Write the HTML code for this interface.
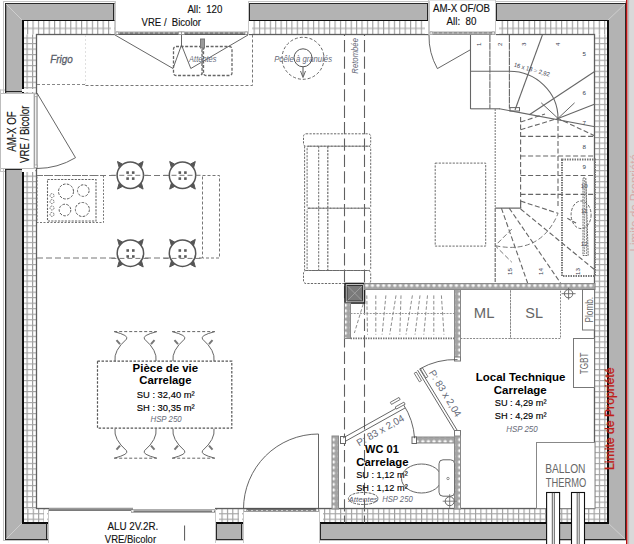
<!DOCTYPE html>
<html><head><meta charset="utf-8"><title>Plan</title>
<style>html,body{margin:0;padding:0;background:#fff;overflow:hidden}svg{display:block}</style></head>
<body><svg width="634" height="544" viewBox="0 0 634 544">
<defs>
 <pattern id="grid" x="0.1" y="0.7" width="5.45" height="5.5" patternUnits="userSpaceOnUse">
   <rect width="5.45" height="5.5" fill="#ffffff"/>
   <rect x="0" y="0" width="1.1" height="5.5" fill="#9c9c9c"/>
   <rect x="0" y="0" width="5.45" height="1.1" fill="#a4a4a4"/>
 </pattern>
 <pattern id="gtop" x="64.85" y="2.4" width="5.393" height="13" patternUnits="userSpaceOnUse">
   <rect width="5.393" height="13" fill="#ffffff"/>
   <rect x="0" y="0" width="1.1" height="13" fill="#9c9c9c"/>
   <rect x="0" y="-0.55" width="5.393" height="1.1" fill="#a4a4a4"/>
   <rect x="0" y="12.45" width="5.393" height="1.1" fill="#a4a4a4"/>
 </pattern>
 <pattern id="gbot" x="404.85" y="513.25" width="5.393" height="5.4" patternUnits="userSpaceOnUse">
   <rect width="5.393" height="5.4" fill="#ffffff"/>
   <rect x="0" y="0" width="1.1" height="5.4" fill="#9c9c9c"/>
   <rect x="0" y="0" width="5.393" height="1.1" fill="#a4a4a4"/>
 </pattern>
 <pattern id="gleft" x="26.55" y="26.45" width="5.5" height="5.524" patternUnits="userSpaceOnUse">
   <rect width="5.5" height="5.524" fill="#ffffff"/>
   <rect x="0" y="0" width="1.1" height="5.524" fill="#9c9c9c"/>
   <rect x="0" y="0" width="5.5" height="1.1" fill="#a4a4a4"/>
 </pattern>
 <pattern id="gright" x="598.85" y="302.75" width="5.5" height="5.524" patternUnits="userSpaceOnUse">
   <rect width="5.5" height="5.524" fill="#ffffff"/>
   <rect x="0" y="0" width="1.1" height="5.524" fill="#9c9c9c"/>
   <rect x="0" y="0" width="5.5" height="1.1" fill="#a4a4a4"/>
 </pattern>
 <pattern id="xh" x="0" y="0.5" width="5.6" height="6" patternUnits="userSpaceOnUse">
   <rect width="5.6" height="6" fill="#a4a4a4"/>
   <path d="M0.6 3 L2.8 1.3 L5 3 L2.8 4.7 Z" fill="#fafafa"/>
 </pattern>
 <pattern id="xv" x="0.5" y="0" width="6" height="5.6" patternUnits="userSpaceOnUse">
   <rect width="6" height="5.6" fill="#a4a4a4"/>
   <path d="M3 0.6 L4.7 2.8 L3 5 L1.3 2.8 Z" fill="#fafafa"/>
 </pattern>
 <linearGradient id="sillh" x1="0" y1="0" x2="0" y2="1">
   <stop offset="0" stop-color="#a8a8a8"/><stop offset="0.6" stop-color="#7a7a7a"/><stop offset="1" stop-color="#4a4a4a"/>
 </linearGradient>
 <linearGradient id="sillb" x1="0" y1="0" x2="0" y2="1">
   <stop offset="0" stop-color="#4a4a4a"/><stop offset="0.4" stop-color="#7a7a7a"/><stop offset="1" stop-color="#a8a8a8"/>
 </linearGradient>
</defs>
<rect x="0" y="0" width="634" height="544" fill="#fff"/>
<rect x="628" y="0" width="6" height="544" fill="#d9d9d9"/>
<rect x="3.5" y="1.5" width="622" height="539" fill="none" stroke="#c4c4c4" stroke-width="1"/>
<rect x="5" y="3" width="621" height="537" fill="#2a2a2a"/>
<rect x="6.3" y="4" width="618.7" height="535" fill="#b3b3b3"/>
<path d="M6 4 L22 20 M625 4 L608 20 M6 539 L22 523 M625 539 L608 523" stroke="#d4d4d4" stroke-width="0.8"/>
<rect x="22" y="20" width="587" height="504" fill="#0d0d0d"/>
<rect x="24" y="21" width="583" height="501" fill="#fff"/>
<rect x="24" y="21" width="583" height="13.5" fill="url(#gtop)"/>
<rect x="24" y="508.5" width="583" height="13.5" fill="url(#gbot)"/>
<rect x="24" y="34.5" width="12.5" height="474" fill="url(#gleft)"/>
<rect x="594.5" y="34.5" width="12.5" height="474" fill="url(#gright)"/>
<rect x="36.5" y="34.5" width="558" height="474" fill="#fff" stroke="#5e5e5e" stroke-width="1.3"/>
<rect x="115" y="0" width="134" height="36" fill="#fff"/>
<rect x="113" y="3" width="1" height="17" fill="#262626"/>
<rect x="111" y="21" width="3" height="13" fill="#fff"/>
<rect x="114.5" y="1.5" width="1" height="33" fill="#c4c4c4"/>
<rect x="115" y="1" width="1" height="34" fill="#c8c8c8"/>
<rect x="249" y="3" width="1" height="17" fill="#262626"/>
<rect x="249" y="21" width="3" height="13" fill="#fff"/>
<rect x="248" y="1" width="1" height="34" fill="#c8c8c8"/>
<rect x="116" y="31.5" width="132" height="3.5" fill="url(#sillh)"/>
<line x1="118" y1="33" x2="246" y2="33" stroke="#e8e8e8" stroke-width="0.7" stroke-dasharray="2 3"/>
<rect x="116" y="32" width="2.5" height="2.5" fill="#fff" stroke="#777" stroke-width="0.5"/>
<rect x="245" y="32" width="2.5" height="2.5" fill="#fff" stroke="#777" stroke-width="0.5"/>
<rect x="429" y="0" width="67" height="36" fill="#fff"/>
<rect x="427" y="3" width="1" height="17" fill="#262626"/>
<rect x="425" y="21" width="3" height="13" fill="#fff"/>
<rect x="428.5" y="1.5" width="1" height="33" fill="#c4c4c4"/>
<rect x="429" y="1" width="1" height="34" fill="#c8c8c8"/>
<rect x="496" y="3" width="1" height="17" fill="#262626"/>
<rect x="496" y="21" width="3" height="13" fill="#fff"/>
<rect x="495" y="1" width="1" height="34" fill="#c8c8c8"/>
<rect x="430" y="31.5" width="65" height="3.5" fill="url(#sillh)"/>
<line x1="432" y1="33" x2="493" y2="33" stroke="#e8e8e8" stroke-width="0.7" stroke-dasharray="2 3"/>
<rect x="430" y="32" width="2.5" height="2.5" fill="#fff" stroke="#777" stroke-width="0.5"/>
<rect x="492" y="32" width="2.5" height="2.5" fill="#fff" stroke="#777" stroke-width="0.5"/>
<rect x="0" y="93" width="36" height="76" fill="#fff"/>
<rect x="5" y="91" width="17" height="1" fill="#262626"/>
<rect x="22" y="89" width="13" height="3" fill="#fff"/>
<rect x="4" y="93" width="32" height="1" fill="#c8c8c8"/>
<rect x="5" y="169" width="17" height="1" fill="#262626"/>
<rect x="22" y="169" width="13" height="3" fill="#fff"/>
<rect x="4" y="168" width="32" height="1" fill="#c8c8c8"/>
<rect x="34" y="94" width="3.5" height="74" fill="#888"/>
<rect x="35" y="94" width="1.5" height="74" fill="#f0f0f0"/>
<rect x="34.5" y="94" width="2.5" height="2.5" fill="#fff" stroke="#777" stroke-width="0.5"/>
<rect x="34.5" y="165" width="2.5" height="2.5" fill="#fff" stroke="#777" stroke-width="0.5"/>
<rect x="48" y="509" width="168" height="35" fill="#fff"/>
<rect x="46" y="523" width="1" height="17" fill="#262626"/>
<rect x="44" y="510" width="3" height="12" fill="#fff"/>
<rect x="48" y="509" width="1" height="34" fill="#c8c8c8"/>
<rect x="216" y="523" width="1" height="17" fill="#262626"/>
<rect x="216" y="510" width="3" height="12" fill="#fff"/>
<rect x="215" y="509" width="1" height="34" fill="#c8c8c8"/>
<rect x="49" y="508.5" width="166" height="3.5" fill="url(#sillb)"/>
<line x1="51" y1="510.5" x2="213" y2="510.5" stroke="#e8e8e8" stroke-width="0.7" stroke-dasharray="2 3"/>
<rect x="49" y="509" width="2.5" height="2.5" fill="#fff" stroke="#777" stroke-width="0.5"/>
<rect x="212" y="509" width="2.5" height="2.5" fill="#fff" stroke="#777" stroke-width="0.5"/>
<rect x="49" y="507" width="166" height="7" fill="#fff"/>
<rect x="49" y="507.8" width="84" height="3.2" fill="#7a7a7a"/><rect x="49" y="508.3" width="84" height="1" fill="#a8a8a8"/>
<rect x="131" y="509.4" width="84" height="3.2" fill="#7a7a7a"/><rect x="131" y="509.9" width="84" height="1" fill="#b0b0b0"/>
<rect x="131.5" y="510.2" width="2" height="1.6" fill="#fff"/><rect x="212" y="510.2" width="2" height="1.6" fill="#fff"/>
<rect x="243" y="509" width="77" height="35" fill="#fff"/>
<rect x="241" y="523" width="1" height="17" fill="#262626"/>
<rect x="239" y="510" width="3" height="12" fill="#fff"/>
<rect x="243" y="509" width="1" height="34" fill="#c8c8c8"/>
<rect x="320" y="523" width="1" height="17" fill="#262626"/>
<rect x="320" y="510" width="3" height="12" fill="#fff"/>
<rect x="319" y="509" width="1" height="34" fill="#c8c8c8"/>
<rect x="244" y="508.5" width="75" height="3.5" fill="url(#sillb)"/>
<line x1="246" y1="510.5" x2="317" y2="510.5" stroke="#e8e8e8" stroke-width="0.7" stroke-dasharray="2 3"/>
<rect x="244" y="509" width="2.5" height="2.5" fill="#fff" stroke="#777" stroke-width="0.5"/>
<rect x="316" y="509" width="2.5" height="2.5" fill="#fff" stroke="#777" stroke-width="0.5"/>
<rect x="0.5" y="93.5" width="33.5" height="75" fill="#fff" stroke="#bdbdbd" stroke-width="1"/><rect x="0" y="168" width="1" height="4" fill="#c4c4c4"/><rect x="0" y="171" width="5" height="1" fill="#c4c4c4"/><rect x="0" y="89.5" width="5" height="1" fill="#c4c4c4"/><rect x="0" y="89.5" width="1" height="5" fill="#c4c4c4"/>
<rect x="428.5" y="0" width="67" height="34" fill="none" stroke="#c8c8c8" stroke-width="1"/>
<rect x="626" y="0" width="1.1" height="544" fill="#b41212"/><rect x="627.1" y="0" width="1" height="544" fill="#d68080"/><rect x="628.1" y="0" width="1" height="544" fill="#b8b8b8"/>
<text x="187.40" y="13.2" font-family='"Liberation Sans", sans-serif' font-size="11.3" font-weight="normal" font-style="normal" fill="#111" stroke="#111" stroke-width="0.15" textLength="34.92" lengthAdjust="spacingAndGlyphs">All:&#160; 120</text>
<text x="141.60" y="26.4" font-family='"Liberation Sans", sans-serif' font-size="11.3" font-weight="normal" font-style="normal" fill="#111" stroke="#111" stroke-width="0.15" textLength="59.43" lengthAdjust="spacingAndGlyphs">VRE /&#160; Bicolor</text>
<text x="433.00" y="11.8" font-family='"Liberation Sans", sans-serif' font-size="11.3" font-weight="normal" font-style="normal" fill="#111" stroke="#111" stroke-width="0.15" textLength="56.98" lengthAdjust="spacingAndGlyphs">AM-X OF/OB</text>
<text x="446.60" y="24.8" font-family='"Liberation Sans", sans-serif' font-size="11.3" font-weight="normal" font-style="normal" fill="#111" stroke="#111" stroke-width="0.15" textLength="29.86" lengthAdjust="spacingAndGlyphs">All:&#160; 80</text>
<text x="107.40" y="529.9" font-family='"Liberation Sans", sans-serif' font-size="11.5" font-weight="normal" font-style="normal" fill="#111" stroke="#111" stroke-width="0.15" textLength="50.87" lengthAdjust="spacingAndGlyphs">ALU 2V.2R.</text>
<text x="104.80" y="543.2" font-family='"Liberation Sans", sans-serif' font-size="11.5" font-weight="normal" font-style="normal" fill="#111" stroke="#111" stroke-width="0.15" textLength="51.29" lengthAdjust="spacingAndGlyphs">VRE/Bicolor</text>
<text x="15.6" y="151.80" transform="rotate(-90 15.6 151.80)" font-family='"Liberation Sans", sans-serif' font-size="12" font-weight="normal" font-style="normal" fill="#111" stroke="#111" stroke-width="0.15" textLength="40.56" lengthAdjust="spacingAndGlyphs">AM-X OF</text>
<text x="29.2" y="162.90" transform="rotate(-90 29.2 162.90)" font-family='"Liberation Sans", sans-serif' font-size="12" font-weight="normal" font-style="normal" fill="#111" stroke="#111" stroke-width="0.15" textLength="57.25" lengthAdjust="spacingAndGlyphs">VRE / Bicolor</text>
<path d="M115 35 L173 68.5 L181.5 45 L190.8 68.5 L248 35" stroke="#555" stroke-width="0.9" fill="none"/>
<line x1="181.5" y1="35" x2="181.5" y2="45" stroke="#555" stroke-width="0.9"/>
<rect x="178.5" y="32" width="3" height="2.6" fill="#fff" stroke="#777" stroke-width="0.5"/><rect x="181.5" y="32" width="3" height="2.6" fill="#fff" stroke="#777" stroke-width="0.5"/>
<path d="M37 93 L75.5 157.7 A75 75 0 0 1 37 168.5" stroke="#555" stroke-width="0.9" fill="none"/>
<path d="M429 35 A66 66 0 0 0 437.4 68.6 L470.5 49.7" stroke="#555" stroke-width="0.9" fill="none"/>
<path d="M243.5 509 A75 75 0 0 1 318.5 434 L318.5 509" stroke="#555" stroke-width="0.9" fill="none"/>
<path d="M37 84.5 L85.5 84.5" stroke="#888" stroke-width="1" fill="none" stroke-dasharray="3 2"/>
<path d="M85.5 85.5 L252.5 85.5 L252.5 35" stroke="#777" stroke-width="1" fill="none" stroke-dasharray="3 2"/>
<line x1="85.5" y1="35" x2="85.5" y2="84" stroke="#d8d8d8" stroke-width="0.8" stroke-dasharray="2 2"/>
<g stroke="#5a5e6a" stroke-width="0.3">
<text x="50.20" y="62.7" font-family='"Liberation Sans", sans-serif' font-size="10.5" font-weight="normal" font-style="italic" fill="#5a5e6a" textLength="22.68" lengthAdjust="spacingAndGlyphs">Frigo</text>
</g>
<rect x="173.5" y="46.5" width="28.5" height="29" stroke="#666" stroke-width="1.3" fill="none" stroke-dasharray="3 1.6" rx="2.5"/>
<rect x="203.5" y="46.5" width="28.5" height="29" stroke="#666" stroke-width="1.3" fill="none" stroke-dasharray="3 1.6" rx="2.5"/>
<rect x="200.5" y="39" width="4" height="9" stroke="#777" stroke-width="1" fill="#999"/>
<line x1="202.5" y1="48" x2="202.5" y2="76" stroke="#888" stroke-width="1" stroke-dasharray="2 1.5"/>
<text x="189.07" y="62" font-family='"Liberation Sans", sans-serif' font-size="9.5" font-weight="normal" font-style="italic" fill="#666a78" textLength="27.47" lengthAdjust="spacingAndGlyphs">Attentes</text>
<circle cx="303" cy="58.3" r="21" fill="none" stroke="#555" stroke-width="0.9" stroke-dasharray="3 2"/>
<circle cx="303" cy="57.8" r="9" fill="none" stroke="#555" stroke-width="1"/>
<line x1="303" y1="66.8" x2="303" y2="76" stroke="#555" stroke-width="1"/>
<path d="M300.5 71 L303 77.5 L305.5 71" stroke="#555" stroke-width="0.9" fill="none"/>
<text x="274.17" y="61.6" font-family='"Liberation Sans", sans-serif' font-size="9.5" font-weight="normal" font-style="italic" fill="#666a78" textLength="57.83" lengthAdjust="spacingAndGlyphs">Po&#234;le &#224; granul&#233;s</text>
<line x1="344.5" y1="35" x2="344.5" y2="523" stroke="#606060" stroke-width="1.1" stroke-dasharray="12.3 4.1" stroke-dashoffset="11.4"/>
<line x1="364.5" y1="35" x2="364.5" y2="523" stroke="#606060" stroke-width="1.1" stroke-dasharray="12.3 4.1" stroke-dashoffset="11.4"/>
<text x="358" y="73.63" transform="rotate(-90 358 73.63)" font-family='"Liberation Sans", sans-serif' font-size="9.5" font-weight="normal" font-style="italic" fill="#666a78" textLength="35.59" lengthAdjust="spacingAndGlyphs">Retomb&#233;e</text>
<rect x="37" y="175.5" width="66.5" height="47" stroke="#777" stroke-width="1" fill="none" stroke-dasharray="2 1.5"/>
<rect x="47.5" y="179.5" width="48.5" height="41.5" stroke="#666" stroke-width="1.1" fill="none" stroke-dasharray="2.2 1.2"/>
<circle cx="66" cy="191.5" r="7.5" fill="none" stroke="#5a5a5a" stroke-width="1" stroke-dasharray="2.6 1.4"/>
<circle cx="83.3" cy="190.6" r="5.8" fill="none" stroke="#5a5a5a" stroke-width="1" stroke-dasharray="2.6 1.4"/>
<circle cx="65" cy="210" r="5.8" fill="none" stroke="#5a5a5a" stroke-width="1" stroke-dasharray="2.6 1.4"/>
<circle cx="82.4" cy="209.5" r="7" fill="none" stroke="#5a5a5a" stroke-width="1" stroke-dasharray="2.6 1.4"/>
<circle cx="52" cy="195.6" r="2" fill="none" stroke="#666" stroke-width="0.9" stroke-dasharray="1.5 0.8"/>
<circle cx="52" cy="201.6" r="2" fill="none" stroke="#666" stroke-width="0.9" stroke-dasharray="1.5 0.8"/>
<circle cx="52" cy="208" r="2" fill="none" stroke="#666" stroke-width="0.9" stroke-dasharray="1.5 0.8"/>
<circle cx="52" cy="214.4" r="2" fill="none" stroke="#666" stroke-width="0.9" stroke-dasharray="1.5 0.8"/>
<line x1="37" y1="175.5" x2="197" y2="175.5" stroke="#777" stroke-width="1" stroke-dasharray="6 3"/>
<line x1="37" y1="258" x2="202" y2="258" stroke="#777" stroke-width="1" stroke-dasharray="6 3"/>
<rect x="202.5" y="175.5" width="17" height="82.5" stroke="#777" stroke-width="1" fill="none" stroke-dasharray="3 2"/>
<g transform="translate(130.3 175.3)"><circle r="13.2" fill="#fff" stroke="#555" stroke-width="1.5"/><path d="M-12.8 -13.8 L-11.2 -8 L-8 -11.2 Z M12.8 -13.8 L11.2 -8 L8 -11.2 Z M-12.8 13.8 L-11.2 8 L-8 11.2 Z M12.8 13.8 L11.2 8 L8 11.2 Z" fill="#555" stroke="#555" stroke-width="1"/><rect x="-4" y="-4" width="2.6" height="2.6" fill="#5a5a5a"/><rect x="1.6" y="-4" width="2.6" height="2.6" fill="#5a5a5a"/><rect x="-4" y="2" width="2.6" height="2.6" fill="#5a5a5a"/><rect x="1.6" y="2" width="2.6" height="2.6" fill="#5a5a5a"/><line x1="-19" y1="0" x2="19" y2="0" stroke="#777" stroke-width="1" stroke-dasharray="5 3"/></g>
<g transform="translate(182.5 175.3)"><circle r="13.2" fill="#fff" stroke="#555" stroke-width="1.5"/><path d="M-12.8 -13.8 L-11.2 -8 L-8 -11.2 Z M12.8 -13.8 L11.2 -8 L8 -11.2 Z M-12.8 13.8 L-11.2 8 L-8 11.2 Z M12.8 13.8 L11.2 8 L8 11.2 Z" fill="#555" stroke="#555" stroke-width="1"/><rect x="-4" y="-4" width="2.6" height="2.6" fill="#5a5a5a"/><rect x="1.6" y="-4" width="2.6" height="2.6" fill="#5a5a5a"/><rect x="-4" y="2" width="2.6" height="2.6" fill="#5a5a5a"/><rect x="1.6" y="2" width="2.6" height="2.6" fill="#5a5a5a"/><line x1="-19" y1="0" x2="19" y2="0" stroke="#777" stroke-width="1" stroke-dasharray="5 3"/></g>
<g transform="translate(130.4 253.2)"><circle r="13.2" fill="#fff" stroke="#555" stroke-width="1.5"/><path d="M-12.8 -13.8 L-11.2 -8 L-8 -11.2 Z M12.8 -13.8 L11.2 -8 L8 -11.2 Z M-12.8 13.8 L-11.2 8 L-8 11.2 Z M12.8 13.8 L11.2 8 L8 11.2 Z" fill="#555" stroke="#555" stroke-width="1"/><rect x="-4" y="-4" width="2.6" height="2.6" fill="#5a5a5a"/><rect x="1.6" y="-4" width="2.6" height="2.6" fill="#5a5a5a"/><rect x="-4" y="2" width="2.6" height="2.6" fill="#5a5a5a"/><rect x="1.6" y="2" width="2.6" height="2.6" fill="#5a5a5a"/><line x1="-19" y1="5.2" x2="19" y2="5.2" stroke="#777" stroke-width="1" stroke-dasharray="5 3"/></g>
<g transform="translate(182.5 253.2)"><circle r="13.2" fill="#fff" stroke="#555" stroke-width="1.5"/><path d="M-12.8 -13.8 L-11.2 -8 L-8 -11.2 Z M12.8 -13.8 L11.2 -8 L8 -11.2 Z M-12.8 13.8 L-11.2 8 L-8 11.2 Z M12.8 13.8 L11.2 8 L8 11.2 Z" fill="#555" stroke="#555" stroke-width="1"/><rect x="-4" y="-4" width="2.6" height="2.6" fill="#5a5a5a"/><rect x="1.6" y="-4" width="2.6" height="2.6" fill="#5a5a5a"/><rect x="-4" y="2" width="2.6" height="2.6" fill="#5a5a5a"/><rect x="1.6" y="2" width="2.6" height="2.6" fill="#5a5a5a"/><line x1="-19" y1="5.2" x2="19" y2="5.2" stroke="#777" stroke-width="1" stroke-dasharray="5 3"/></g>
<g transform="translate(135.5 331.6) scale(1 1)"><path d="M-21.3 0 L21.3 0" stroke="#666" stroke-width="1" stroke-dasharray="3 2"/><path d="M-21.3 0 Q-6 4 -9 7.5 Q-22 19 -20.5 29.5" stroke="#666" stroke-width="1" fill="none"/><path d="M21.3 0 Q6 4 9 7.5 Q22 19 20.5 29.5" stroke="#666" stroke-width="1" fill="none"/><path d="M-19 8.5 L-15.5 12.5 M19 8.5 L15.5 12.5" stroke="#777" stroke-width="2" /></g>
<g transform="translate(135.5 458.2) scale(1 -1)"><path d="M-21.3 0 L21.3 0" stroke="#666" stroke-width="1" stroke-dasharray="3 2"/><path d="M-21.3 0 Q-6 4 -9 7.5 Q-22 19 -20.5 29.5" stroke="#666" stroke-width="1" fill="none"/><path d="M21.3 0 Q6 4 9 7.5 Q22 19 20.5 29.5" stroke="#666" stroke-width="1" fill="none"/><path d="M-19 8.5 L-15.5 12.5 M19 8.5 L15.5 12.5" stroke="#777" stroke-width="2" /></g>
<g transform="translate(193.5 331.6) scale(1 1)"><path d="M-21.3 0 L21.3 0" stroke="#666" stroke-width="1" stroke-dasharray="3 2"/><path d="M-21.3 0 Q-6 4 -9 7.5 Q-22 19 -20.5 29.5" stroke="#666" stroke-width="1" fill="none"/><path d="M21.3 0 Q6 4 9 7.5 Q22 19 20.5 29.5" stroke="#666" stroke-width="1" fill="none"/><path d="M-19 8.5 L-15.5 12.5 M19 8.5 L15.5 12.5" stroke="#777" stroke-width="2" /></g>
<g transform="translate(193.5 458.2) scale(1 -1)"><path d="M-21.3 0 L21.3 0" stroke="#666" stroke-width="1" stroke-dasharray="3 2"/><path d="M-21.3 0 Q-6 4 -9 7.5 Q-22 19 -20.5 29.5" stroke="#666" stroke-width="1" fill="none"/><path d="M21.3 0 Q6 4 9 7.5 Q22 19 20.5 29.5" stroke="#666" stroke-width="1" fill="none"/><path d="M-19 8.5 L-15.5 12.5 M19 8.5 L15.5 12.5" stroke="#777" stroke-width="2" /></g>
<rect x="97.5" y="361.2" width="134.3" height="67" stroke="#555" stroke-width="1.2" fill="#fff" stroke-dasharray="2.5 1.5"/>
<text x="132.60" y="371.9" font-family='"Liberation Sans", sans-serif' font-size="10.8" font-weight="bold" font-style="normal" fill="#000" textLength="65.51" lengthAdjust="spacingAndGlyphs">Pi&#232;ce de vie</text>
<text x="139.35" y="384.4" font-family='"Liberation Sans", sans-serif' font-size="10.8" font-weight="bold" font-style="normal" fill="#000" textLength="52.24" lengthAdjust="spacingAndGlyphs">Carrelage</text>
<text x="136.73" y="397.9" font-family='"Liberation Sans", sans-serif' font-size="9.5" font-weight="normal" font-style="normal" fill="#000" stroke="#000" stroke-width="0.15" textLength="57.95" lengthAdjust="spacingAndGlyphs">SU : 32,40 m&#178;</text>
<text x="136.73" y="410.7" font-family='"Liberation Sans", sans-serif' font-size="9.5" font-weight="normal" font-style="normal" fill="#000" stroke="#000" stroke-width="0.15" textLength="57.95" lengthAdjust="spacingAndGlyphs">SH : 30,35 m&#178;</text>
<text x="150.46" y="422.3" font-family='"Liberation Sans", sans-serif' font-size="8.8" font-weight="normal" font-style="italic" fill="#666a78" textLength="31.18" lengthAdjust="spacingAndGlyphs">HSP 250</text>
<rect x="303.5" y="133.8" width="67.2" height="12.4" stroke="#6a6a6a" stroke-width="1" fill="none" stroke-dasharray="2.2 1.3" rx="2.5"/>
<rect x="303.5" y="270.5" width="67.2" height="13" stroke="#6a6a6a" stroke-width="1" fill="none" stroke-dasharray="2.2 1.3" rx="2.5"/>
<line x1="304.6" y1="146.2" x2="304.6" y2="270.5" stroke="#6a6a6a" stroke-width="1" stroke-dasharray="2.2 1.3"/>
<rect x="307.1" y="146.2" width="63.6" height="62" stroke="#6a6a6a" stroke-width="1" fill="none" stroke-dasharray="2.2 1.3" rx="2"/>
<rect x="307.1" y="208.2" width="63.6" height="62.3" stroke="#6a6a6a" stroke-width="1" fill="none" stroke-dasharray="2.2 1.3" rx="2"/>
<line x1="318.7" y1="146.2" x2="318.7" y2="270.5" stroke="#6a6a6a" stroke-width="1" stroke-dasharray="2.2 1.3"/>
<line x1="327.8" y1="146.2" x2="327.8" y2="270.5" stroke="#6a6a6a" stroke-width="1.2" stroke-dasharray="2.2 1.3"/>
<rect x="435.2" y="163.1" width="50.5" height="83" stroke="#6a6a6a" stroke-width="1" fill="none" stroke-dasharray="2.2 1.3"/>
<line x1="470.5" y1="35" x2="470.5" y2="109" stroke="#666" stroke-width="1.1"/>
<line x1="470.5" y1="108.8" x2="500" y2="108.8" stroke="#666" stroke-width="1.1"/>
<line x1="489.9" y1="35" x2="489.9" y2="108.8" stroke="#666" stroke-width="1.1" stroke-dasharray="7 0.7"/>
<line x1="509.4" y1="35" x2="509.4" y2="108.5" stroke="#666" stroke-width="1.1" stroke-dasharray="7 0.7"/>
<line x1="470.5" y1="71.3" x2="509.4" y2="71.3" stroke="#666" stroke-width="1.1"/>
<path d="M509.4 71.3 A48.6 47 0 0 1 558 118.4" stroke="#666" stroke-width="1.1" fill="none"/>
<line x1="499.4" y1="108.8" x2="595" y2="126.7" stroke="#666" stroke-width="1.1"/>
<line x1="542.4" y1="35" x2="515" y2="110" stroke="#666" stroke-width="1.1"/>
<line x1="595" y1="71.3" x2="529.3" y2="114.8" stroke="#666" stroke-width="1.1"/>
<line x1="595" y1="104" x2="558" y2="118.4" stroke="#666" stroke-width="1.1"/>
<path d="M541.2 102.8 L558 118.4 L574.6 102.8" stroke="#666" stroke-width="1" fill="none"/>
<rect x="510" y="107.6" width="9.5" height="3.4" stroke="#666" stroke-width="1" fill="none"/>
<text x="481.2" y="44.3" font-family='"Liberation Sans", sans-serif' font-size="6.2" font-weight="normal" font-style="normal" fill="#3a4050" text-anchor="middle" transform="rotate(-90 481.2 44.3)">1</text>
<text x="501.7" y="44.3" font-family='"Liberation Sans", sans-serif' font-size="6.2" font-weight="normal" font-style="normal" fill="#3a4050" text-anchor="middle" transform="rotate(-90 501.7 44.3)">2</text>
<text x="525.7" y="44.3" font-family='"Liberation Sans", sans-serif' font-size="6.2" font-weight="normal" font-style="normal" fill="#3a4050" text-anchor="middle" transform="rotate(-90 525.7 44.3)">3</text>
<text x="560.2" y="44.3" font-family='"Liberation Sans", sans-serif' font-size="6.2" font-weight="normal" font-style="normal" fill="#3a4050" text-anchor="middle" transform="rotate(-90 560.2 44.3)">4</text>
<text x="584.2" y="56" font-family='"Liberation Sans", sans-serif' font-size="6.2" font-weight="normal" font-style="normal" fill="#3a4050" text-anchor="middle">5</text>
<text x="584.2" y="95" font-family='"Liberation Sans", sans-serif' font-size="6.2" font-weight="normal" font-style="normal" fill="#3a4050" text-anchor="middle">6</text>
<text x="584.2" y="125" font-family='"Liberation Sans", sans-serif' font-size="6.2" font-weight="normal" font-style="normal" fill="#3a4050" text-anchor="middle">7</text>
<text x="584.2" y="148.5" font-family='"Liberation Sans", sans-serif' font-size="6.2" font-weight="normal" font-style="normal" fill="#3a4050" text-anchor="middle">8</text>
<text x="584.2" y="168.5" font-family='"Liberation Sans", sans-serif' font-size="6.2" font-weight="normal" font-style="normal" fill="#3a4050" text-anchor="middle">9</text>
<text x="584.2" y="188" font-family='"Liberation Sans", sans-serif' font-size="6.2" font-weight="normal" font-style="normal" fill="#3a4050" text-anchor="middle">10</text>
<text x="584.2" y="213" font-family='"Liberation Sans", sans-serif' font-size="6.2" font-weight="normal" font-style="normal" fill="#3a4050" text-anchor="middle">11</text>
<text x="584.2" y="246" font-family='"Liberation Sans", sans-serif' font-size="6.2" font-weight="normal" font-style="normal" fill="#3a4050" text-anchor="middle">12</text>
<text x="513.5" y="66.5" font-family='"Liberation Sans", sans-serif' font-size="6.2" font-weight="normal" font-style="normal" fill="#3a4050" text-anchor="start" transform="rotate(16 513.5 66.5)" textLength="37" lengthAdjust="spacingAndGlyphs">16 x 18 = 2,92</text>
<line x1="495.2" y1="109" x2="495.2" y2="208" stroke="#808080" stroke-width="1.1" stroke-dasharray="2 1"/>
<line x1="520.6" y1="117" x2="520.6" y2="208" stroke="#666" stroke-width="1.1" stroke-dasharray="5 2.5"/>
<line x1="558" y1="118.4" x2="558" y2="208" stroke="#666" stroke-width="1.1" stroke-dasharray="5 2.5"/>
<line x1="520.6" y1="136.4" x2="595" y2="136.4" stroke="#666" stroke-width="1.1" stroke-dasharray="5 2.5"/>
<line x1="520.6" y1="156" x2="595" y2="156" stroke="#666" stroke-width="1.1" stroke-dasharray="5 2.5"/>
<line x1="520.6" y1="175.5" x2="595" y2="175.5" stroke="#666" stroke-width="1.1" stroke-dasharray="5 2.5"/>
<line x1="520.6" y1="194.4" x2="595" y2="194.4" stroke="#666" stroke-width="1.1" stroke-dasharray="5 2.5"/>
<path d="M520.6 122 L545 114" stroke="#666" stroke-width="1.1" fill="none" stroke-dasharray="5 2.5"/>
<path d="M520.6 129.7 L558 118.4 L595 136" stroke="#666" stroke-width="1.1" fill="none" stroke-dasharray="5 2.5"/>
<path d="M495.2 208.1 L520.6 208.1 L520.6 201.1" stroke="#6a6a6a" stroke-width="1.2" fill="none"/>
<line x1="495.2" y1="208.1" x2="495.2" y2="284" stroke="#707070" stroke-width="1.2" stroke-dasharray="4 1"/>
<path d="M520.6 201.1 L558.1 213.3" stroke="#666" stroke-width="1.1" fill="none" stroke-dasharray="5 2.5"/>
<path d="M495.2 245.7 Q540.8 255 558.1 213.3" stroke="#777" stroke-width="1" fill="none" stroke-dasharray="5 2.5"/>
<path d="M501.4 208.1 L527.6 283 M509.2 208.1 L560.5 283 M520.6 209 L595 270" stroke="#666" stroke-width="1.1" fill="none" stroke-dasharray="5 2.5"/>
<path d="M511.8 229 L495.2 245.7 L511.8 262.2" stroke="#777" stroke-width="1" fill="none" stroke-dasharray="5 2.5"/>
<text x="512" y="271.5" font-family='"Liberation Sans", sans-serif' font-size="6.2" font-weight="normal" font-style="normal" fill="#3a4050" text-anchor="middle" transform="rotate(-90 512 271.5)">15</text>
<text x="542.5" y="271.5" font-family='"Liberation Sans", sans-serif' font-size="6.2" font-weight="normal" font-style="normal" fill="#3a4050" text-anchor="middle" transform="rotate(-90 542.5 271.5)">14</text>
<text x="580" y="271.5" font-family='"Liberation Sans", sans-serif' font-size="6.2" font-weight="normal" font-style="normal" fill="#3a4050" text-anchor="middle" transform="rotate(-90 580 271.5)">13</text>
<rect x="562" y="159.5" width="33" height="116.5" stroke="#777" stroke-width="2" fill="none" stroke-dasharray="1.5 1"/>
<ellipse cx="581.1" cy="214.8" rx="10" ry="13.8" fill="none" stroke="#666" stroke-width="1" stroke-dasharray="3 1.6"/>
<path d="M583 178 L585.8 178 L588.2 255.5 L583 255.5 Z" stroke="#666" stroke-width="1" fill="none" stroke-dasharray="2 0.8"/>
<path d="M584.4 180 L584.6 254 M586 182 L586.6 254" stroke="#777" stroke-width="0.8" fill="none" stroke-dasharray="2 0.8"/>
<path d="M567.3 218.3 L577.4 223.8" stroke="#666" stroke-width="1.1" fill="none" stroke-dasharray="4 2"/>
<rect x="345" y="283.5" width="19.5" height="19.5" stroke="#222" stroke-width="1.6" fill="#fff"/>
<rect x="347" y="285.5" width="15.5" height="15.5" stroke="#333" stroke-width="1" fill="#7a7a7a"/>
<path d="M347.5 286 L362 300.5 M362 286 L347.5 300.5" stroke="#aaa" stroke-width="0.7" fill="none"/>
<rect x="364.5" y="283.5" width="230.5" height="6" fill="url(#xh)" stroke="#8a8a8a" stroke-width="1"/>
<rect x="344.5" y="303" width="6" height="35.5" fill="url(#xv)" stroke="#8a8a8a" stroke-width="1"/>
<line x1="350.5" y1="338.3" x2="455" y2="338.3" stroke="#777" stroke-width="1.8" stroke-dasharray="1.5 1"/>
<line x1="350.5" y1="313.5" x2="460" y2="313.5" stroke="#999" stroke-width="1" stroke-dasharray="2 1.2"/>
<line x1="366.8" y1="295.4" x2="367.5" y2="334.6" stroke="#808080" stroke-width="0.9" stroke-dasharray="3.5 2"/>
<line x1="375.8" y1="295.4" x2="375.8" y2="334.6" stroke="#808080" stroke-width="0.9" stroke-dasharray="3.5 2"/>
<line x1="385.9" y1="295.4" x2="382.1" y2="334.6" stroke="#808080" stroke-width="0.9" stroke-dasharray="3.5 2"/>
<line x1="396" y1="295.4" x2="389.7" y2="334.6" stroke="#808080" stroke-width="0.9" stroke-dasharray="3.5 2"/>
<line x1="401" y1="295.4" x2="399.8" y2="334.6" stroke="#808080" stroke-width="0.9" stroke-dasharray="3.5 2"/>
<line x1="412.4" y1="295.4" x2="406" y2="334.6" stroke="#808080" stroke-width="0.9" stroke-dasharray="3.5 2"/>
<line x1="420" y1="295.4" x2="415" y2="334.6" stroke="#808080" stroke-width="0.9" stroke-dasharray="3.5 2"/>
<line x1="427.5" y1="295.4" x2="423.8" y2="334.6" stroke="#808080" stroke-width="0.9" stroke-dasharray="3.5 2"/>
<line x1="433.8" y1="295.4" x2="433.8" y2="334.6" stroke="#808080" stroke-width="0.9" stroke-dasharray="3.5 2"/>
<line x1="441.4" y1="295.4" x2="444" y2="334.6" stroke="#808080" stroke-width="0.9" stroke-dasharray="3.5 2"/>
<line x1="363.2" y1="304" x2="354.4" y2="333" stroke="#808080" stroke-width="0.9" stroke-dasharray="3.5 2"/>
<rect x="454.5" y="289.5" width="6" height="68" fill="url(#xv)" stroke="#8a8a8a" stroke-width="1"/>
<rect x="454.5" y="357" width="6" height="4" stroke="#777" stroke-width="1" fill="#fff"/>
<rect x="460.5" y="289.5" width="50" height="49" stroke="#888" stroke-width="1" fill="none" stroke-dasharray="2 1.2"/>
<rect x="510.5" y="289.5" width="50" height="49" stroke="#888" stroke-width="1" fill="none" stroke-dasharray="2 1.2"/>
<text x="473.81" y="318.3" font-family='"Liberation Sans", sans-serif' font-size="14.5" font-weight="normal" font-style="normal" fill="#666" textLength="20.62" lengthAdjust="spacingAndGlyphs">ML</text>
<text x="525.28" y="318.3" font-family='"Liberation Sans", sans-serif' font-size="14.5" font-weight="normal" font-style="normal" fill="#666" textLength="17.71" lengthAdjust="spacingAndGlyphs">SL</text>
<g transform="translate(568.6 293.7)"><circle r="4.2" fill="none" stroke="#666" stroke-width="1"/><path d="M-7 0 L7 0 M0 -6 L0 6" stroke="#666" stroke-width="0.9"/></g>
<rect x="582.5" y="289.5" width="12" height="40.5" stroke="#777" stroke-width="1" fill="#fff"/>
<text x="592.8" y="322.46" transform="rotate(-90 592.8 322.46)" font-family='"Liberation Sans", sans-serif' font-size="10" font-weight="normal" font-style="normal" fill="#666" textLength="25.62" lengthAdjust="spacingAndGlyphs">Plomb.</text>
<rect x="573.5" y="338.5" width="21" height="49" stroke="#777" stroke-width="1" fill="#fff"/>
<text x="588.4" y="374.16" transform="rotate(-90 588.4 374.16)" font-family='"Liberation Sans", sans-serif' font-size="10.5" font-weight="normal" font-style="normal" fill="#666" textLength="21.68" lengthAdjust="spacingAndGlyphs">TGBT</text>
<text x="475.80" y="381" font-family='"Liberation Sans", sans-serif' font-size="11" font-weight="bold" font-style="normal" fill="#000" textLength="89.72" lengthAdjust="spacingAndGlyphs">Local Technique</text>
<text x="493.84" y="393.6" font-family='"Liberation Sans", sans-serif' font-size="10.8" font-weight="bold" font-style="normal" fill="#000" textLength="52.85" lengthAdjust="spacingAndGlyphs">Carrelage</text>
<text x="494.74" y="406.3" font-family='"Liberation Sans", sans-serif' font-size="9.5" font-weight="normal" font-style="normal" fill="#000" stroke="#000" stroke-width="0.15" textLength="51.77" lengthAdjust="spacingAndGlyphs">SU : 4,29 m&#178;</text>
<text x="494.74" y="418.8" font-family='"Liberation Sans", sans-serif' font-size="9.5" font-weight="normal" font-style="normal" fill="#000" stroke="#000" stroke-width="0.15" textLength="51.77" lengthAdjust="spacingAndGlyphs">SH : 4,29 m&#178;</text>
<text x="506.16" y="431.8" font-family='"Liberation Sans", sans-serif' font-size="8.8" font-weight="normal" font-style="italic" fill="#666a78" textLength="31.58" lengthAdjust="spacingAndGlyphs">HSP 250</text>
<path d="M457.5 359.6 A72 72 0 0 0 419.7 368.9" stroke="#555" stroke-width="0.9" fill="none"/>
<path d="M457.5 430.8 L419.7 368.9" stroke="#555" stroke-width="0.9" fill="none"/>
<path d="M455 431.5 L417.5 370" stroke="#555" stroke-width="0.9" fill="none"/>
<g transform="rotate(58.8 421 375)"><rect x="416" y="370" width="10" height="2.4" fill="#fff" stroke="#666" stroke-width="0.8"/><rect x="416" y="377.5" width="10" height="2.4" fill="#fff" stroke="#666" stroke-width="0.8"/></g>
<text x="428.5" y="372.5" font-family='"Liberation Sans", sans-serif' font-size="10" font-weight="normal" font-style="normal" fill="#666a78" text-anchor="start" transform="rotate(58.8 428.5 372.5)" textLength="53" lengthAdjust="spacingAndGlyphs">P: 83 x 2,04</text>
<rect x="454.5" y="430.5" width="6" height="6" stroke="#777" stroke-width="1" fill="#fff"/>
<rect x="332" y="436" width="6.5" height="73" fill="url(#xv)" stroke="#8a8a8a" stroke-width="1"/>
<rect x="340.5" y="436.5" width="5" height="7" stroke="#666" stroke-width="1" fill="#fff"/>
<rect x="414.5" y="437" width="40" height="6" fill="url(#xh)" stroke="#8a8a8a" stroke-width="1"/>
<rect x="412" y="437" width="4.5" height="6.5" stroke="#666" stroke-width="1" fill="#fff"/>
<rect x="454.5" y="436" width="6" height="73" fill="url(#xv)" stroke="#8a8a8a" stroke-width="1"/>
<path d="M343 438 L403.3 404.3" stroke="#555" stroke-width="0.9" fill="none"/>
<path d="M345 441.5 L405 408" stroke="#555" stroke-width="0.9" fill="none"/>
<path d="M403.3 404.3 A71 71 0 0 1 414.6 438.3" stroke="#555" stroke-width="0.9" fill="none"/>
<g transform="rotate(-29.3 397 402)"><rect x="391" y="399" width="10" height="2.4" fill="#fff" stroke="#666" stroke-width="0.8"/><rect x="393" y="405.5" width="10" height="2.4" fill="#fff" stroke="#666" stroke-width="0.8"/></g>
<text x="359" y="446.5" font-family='"Liberation Sans", sans-serif' font-size="10" font-weight="normal" font-style="normal" fill="#666a78" text-anchor="start" transform="rotate(-29.7 359 446.5)" textLength="53" lengthAdjust="spacingAndGlyphs">P: 83 x 2,04</text>
<ellipse cx="421.5" cy="478.5" rx="20" ry="14.5" fill="#fff" stroke="#666" stroke-width="1"/>
<rect x="439" y="459.8" width="15.6" height="36.4" stroke="#666" stroke-width="1" fill="#fff" rx="4"/>
<circle cx="448" cy="478.5" r="1.2" fill="none" stroke="#666" stroke-width="0.7"/>
<g transform="translate(449.7 501.2)"><circle r="4.5" fill="none" stroke="#666" stroke-width="1"/><path d="M-7 0 L7 0 M0 -7 L0 7" stroke="#666" stroke-width="0.8"/></g>
<text x="365.10" y="452.6" font-family='"Liberation Sans", sans-serif' font-size="10.5" font-weight="bold" font-style="normal" fill="#000" textLength="33.69" lengthAdjust="spacingAndGlyphs">WC 01</text>
<text x="356.25" y="465.5" font-family='"Liberation Sans", sans-serif' font-size="10.8" font-weight="bold" font-style="normal" fill="#000" textLength="52.34" lengthAdjust="spacingAndGlyphs">Carrelage</text>
<text x="356.24" y="478.1" font-family='"Liberation Sans", sans-serif' font-size="9.5" font-weight="normal" font-style="normal" fill="#000" stroke="#000" stroke-width="0.15" textLength="51.47" lengthAdjust="spacingAndGlyphs">SU : 1,12 m&#178;</text>
<text x="356.24" y="490.6" font-family='"Liberation Sans", sans-serif' font-size="9.5" font-weight="normal" font-style="normal" fill="#000" stroke="#000" stroke-width="0.15" textLength="51.47" lengthAdjust="spacingAndGlyphs">SH : 1,12 m&#178;</text>
<text x="382.17" y="501.9" font-family='"Liberation Sans", sans-serif' font-size="8.8" font-weight="normal" font-style="italic" fill="#666a78" textLength="30.57" lengthAdjust="spacingAndGlyphs">HSP 250</text>
<ellipse cx="363.2" cy="498.5" rx="14.8" ry="6" fill="none" stroke="#606060" stroke-width="1" stroke-dasharray="3 1"/>
<text x="363.2" y="502" font-family='"Liberation Sans", sans-serif' font-size="8" font-weight="normal" font-style="italic" fill="#606070" text-anchor="middle">Attentes</text>
<rect x="536.5" y="442.5" width="58.5" height="66" stroke="#888" stroke-width="1" fill="#fff"/>
<text x="545.18" y="473" font-family='"Liberation Sans", sans-serif' font-size="12" font-weight="normal" font-style="normal" fill="#666" textLength="40.30" lengthAdjust="spacingAndGlyphs">BALLON</text>
<text x="545.81" y="486.5" font-family='"Liberation Sans", sans-serif' font-size="12" font-weight="normal" font-style="normal" fill="#666" textLength="40.38" lengthAdjust="spacingAndGlyphs">THERMO</text>
<rect x="546.6" y="492.5" width="13" height="60" stroke="#111" stroke-width="1.1" fill="#fff"/>
<line x1="552.3000000000001" y1="492.5" x2="552.3000000000001" y2="544" stroke="#333" stroke-width="0.8"/>
<line x1="554.3000000000001" y1="492.5" x2="554.3000000000001" y2="544" stroke="#333" stroke-width="0.8"/>
<rect x="571.5" y="492.5" width="13" height="60" stroke="#111" stroke-width="1.1" fill="#fff"/>
<line x1="577.2" y1="492.5" x2="577.2" y2="544" stroke="#333" stroke-width="0.8"/>
<line x1="579.2" y1="492.5" x2="579.2" y2="544" stroke="#333" stroke-width="0.8"/>
<g stroke="#c0201a" stroke-width="0.3">
<text x="614.3" y="469.98" transform="rotate(-90 614.3 469.98)" font-family='"Liberation Sans", sans-serif' font-size="13" font-weight="normal" font-style="normal" fill="#c0201a" textLength="102.50" lengthAdjust="spacingAndGlyphs">Limite de Propri&#233;t&#233;</text>
</g>
<g opacity="0.45">
<text x="639.2" y="251.43" transform="rotate(-90 639.2 251.43)" font-family='"Liberation Sans", sans-serif' font-size="12" font-weight="normal" font-style="normal" fill="#d87070" textLength="97.33" lengthAdjust="spacingAndGlyphs">Limite de Propri&#233;t&#233;</text>
</g>
<line x1="184.6" y1="525.5" x2="184.6" y2="540.6" stroke="#555" stroke-width="1"/>
</svg></body></html>
